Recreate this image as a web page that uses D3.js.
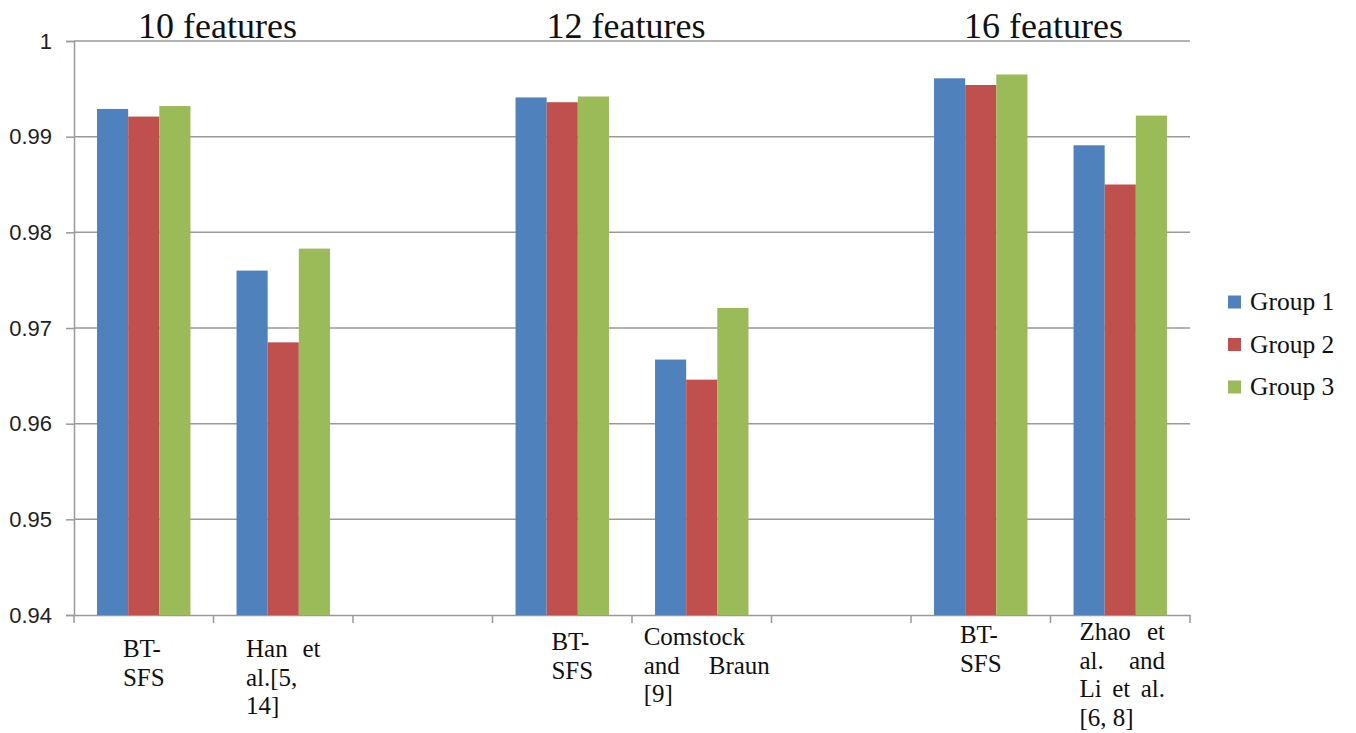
<!DOCTYPE html>
<html>
<head>
<meta charset="utf-8">
<script src="https://cdn.jsdelivr.net/npm/d3@7/dist/d3.min.js"></script>
<style>
  html, body { margin: 0; padding: 0; background: #fff; }
  svg { display: block; }
</style>
</head>
<body>
<svg id="chart" width="1356" height="733"></svg>
<script>
// ---- data ----
const categories = ["10-BT-SFS", "10-Han", "10-gap", "12-BT-SFS", "12-Comstock", "12-gap", "16-BT-SFS", "16-Zhao"];
const categoryLabels = [
  ["BT-", "SFS"],
  ["Han et", "al.[5,", "14]"],
  [],
  ["BT-", "SFS"],
  ["Comstock", "and Braun", "[9]"],
  [],
  ["BT-", "SFS"],
  ["Zhao et", "al. and", "Li et al.", "[6, 8]"]
];
const seriesNames = ["Group 1", "Group 2", "Group 3"];
const group1 = [0.9929, 0.9760, null, 0.9941, 0.9667, null, 0.9961, 0.9891];
const group2 = [0.9921, 0.9685, null, 0.9936, 0.9646, null, 0.9954, 0.9850];
const group3 = [0.9932, 0.9783, null, 0.9942, 0.9721, null, 0.9965, 0.9922];
const featureTitles = ["10 features", "12 features", "16 features"];
const featureTitleAnchors = ["10-Han", "12-Comstock", "16-Zhao"];
const yTicks = [0.94, 0.95, 0.96, 0.97, 0.98, 0.99, 1];
const yTickLabels = ["0.94", "0.95", "0.96", "0.97", "0.98", "0.99", "1"];

// ---- styles ----
const colors = ["#4f81bd", "#c0504d", "#9bbb59"];
const serif = "'Liberation Serif', 'DejaVu Serif', serif";
const sans = "'Liberation Sans', Arial, sans-serif";
const titleShift = [4, -6, -7];                          // small horizontal nudges of the titles
const labelBaselineShift = [7, 7, 0, 0, -5, 0, -7, -10]; // vertical nudges of category labels
const labelShiftX = [0, 0, 0, 10, 5, 0, 0, 2];           // horizontal nudges of category labels
const labelStretch = [1, 1.13, 1, 1, 1.22, 1, 1, 1.11];

const svg = d3.select("#chart");
const mLeft = 74, mRight = 1190, mTop = 41, mBottom = 615;

const x = d3.scaleBand().domain(categories).range([mLeft, mRight]).paddingInner(0).paddingOuter(0);
const x1 = d3.scaleBand().domain(seriesNames).range([0, x.bandwidth()]).paddingInner(0).paddingOuter(0.74);
const y = d3.scaleLinear().domain([0.94, 1]).range([mBottom, mTop]);

const gridColor = "#9a9a9a";

// gridlines
svg.append("g")
  .selectAll("line")
  .data(yTicks.filter(t => t > 0.94))
  .join("line")
  .attr("x1", mLeft).attr("x2", mRight)
  .attr("y1", d => y(d)).attr("y2", d => y(d))
  .attr("stroke", gridColor).attr("stroke-width", 1.5);

// y axis
const yAxis = d3.axisLeft(y).tickValues(yTicks).tickFormat((d, i) => yTickLabels[i]).tickSize(8).tickPadding(14);
const gy = svg.append("g").attr("transform", `translate(${mLeft},0)`).call(yAxis);
gy.select(".domain").attr("stroke", gridColor).attr("stroke-width", 1.5);
gy.selectAll(".tick line").attr("stroke", gridColor).attr("stroke-width", 1.5);
gy.selectAll(".tick text").attr("font-family", sans).attr("font-size", 22).attr("fill", "#222");

// x axis
const xAxis = d3.axisBottom(x).tickFormat("").tickSize(0);
const gx = svg.append("g").attr("transform", `translate(0,${mBottom})`).call(xAxis);
gx.select(".domain").attr("stroke", gridColor).attr("stroke-width", 1.5);
gx.selectAll(".tick").remove();
// category boundary ticks
const boundaries = categories.map(c => x(c)).concat([x(categories[categories.length - 1]) + x.bandwidth()]);
svg.append("g").selectAll("line").data(boundaries).join("line")
  .attr("x1", d => d).attr("x2", d => d)
  .attr("y1", mBottom).attr("y2", mBottom + 8)
  .attr("stroke", gridColor).attr("stroke-width", 1.5);

// bars
const seriesData = [group1, group2, group3];
seriesData.forEach((vals, si) => {
  svg.append("g").selectAll("rect")
    .data(vals.map((v, i) => ({ cat: categories[i], v })).filter(d => d.v != null))
    .join("rect")
    .attr("x", d => x(d.cat) + x1(seriesNames[si]))
    .attr("width", x1.bandwidth())
    .attr("y", d => y(d.v))
    .attr("height", d => y(0.94) - y(d.v))
    .attr("fill", colors[si]);
});

// feature titles
svg.append("g").selectAll("text")
  .data(featureTitles)
  .join("text")
  .attr("x", (d, i) => x(featureTitleAnchors[i]) + titleShift[i])
  .attr("y", 38)
  .attr("text-anchor", "middle")
  .attr("font-family", serif)
  .attr("font-size", 36)
  .attr("fill", "#111")
  .text(d => d);

// category labels (justified blocks)
const labelFont = 25, lineH = 28.5, firstBaseline = 650;
const lg = svg.append("g");
categoryLabels.forEach((lines, ci) => {
  if (!lines.length) return;
  const g = lg.append("g");
  const measure = s => {
    const t = g.append("text").attr("font-family", serif).attr("font-size", labelFont).text(s);
    const w = t.node().getComputedTextLength(); t.remove(); return w;
  };
  const natural = lines.map(measure);
  const blockW = d3.max(natural) * labelStretch[ci];
  const cx = x(categories[ci]) + x.bandwidth() / 2 + labelShiftX[ci];
  const x0 = cx - blockW / 2;
  lines.forEach((line, li) => {
    const words = line.split(" ");
    const yy = firstBaseline + labelBaselineShift[ci] + li * lineH;
    const isLast = li === lines.length - 1;
    if (words.length === 1 || isLast) {
      g.append("text").attr("x", x0).attr("y", yy)
        .attr("font-family", serif).attr("font-size", labelFont).attr("fill", "#111")
        .text(line);
    } else {
      const ww = words.map(measure);
      const gap = (blockW - d3.sum(ww)) / (words.length - 1);
      let cur = x0;
      words.forEach((w, wi) => {
        g.append("text").attr("x", cur).attr("y", yy)
          .attr("font-family", serif).attr("font-size", labelFont).attr("fill", "#111")
          .text(w);
        cur += ww[wi] + gap;
      });
    }
  });
});

// legend
const legend = svg.append("g").attr("transform", "translate(1228,302)");
const legItems = legend.selectAll("g").data(seriesNames).join("g")
  .attr("transform", (d, i) => `translate(0,${i * 42.5})`);
legItems.append("rect").attr("x", 0).attr("y", -6.5).attr("width", 13).attr("height", 13)
  .attr("fill", (d, i) => colors[i]);
legItems.append("text").attr("x", 22).attr("y", 8)
  .attr("font-family", serif).attr("font-size", 25.5).attr("fill", "#111")
  .text(d => d);
</script>
</body>
</html>
